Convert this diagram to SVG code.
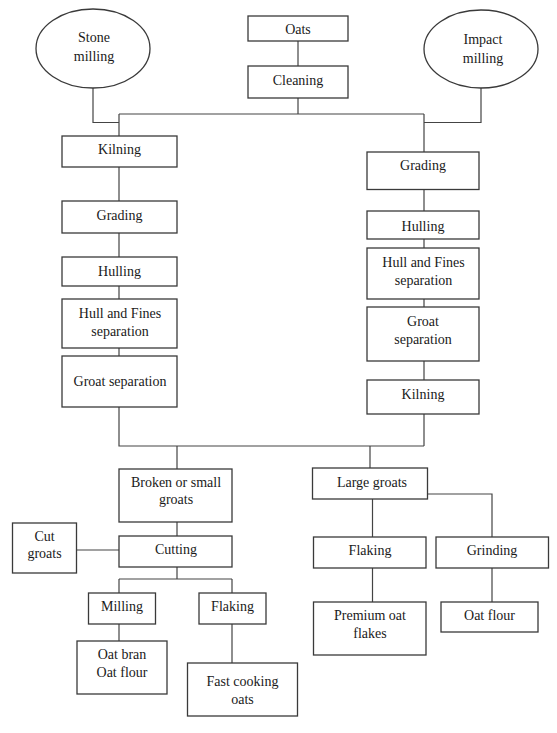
<svg xmlns="http://www.w3.org/2000/svg" width="557" height="733" viewBox="0 0 557 733">
<style>
.b{fill:#fff;stroke:#3a3a3a;stroke-width:1.3}
.c{fill:none;stroke:#444;stroke-width:1.2}
text{font-family:'Liberation Serif','Times New Roman','DejaVu Serif',serif;font-size:14px;fill:#1a1a1a;text-anchor:middle}
</style>
<rect width="557" height="733" fill="#fff"/>
<g id="connectors">
<path class="c" d="M298 41V66M298 98V114M119 114H424M93 88V122.5H119M481 88V122.5H424M119 114V136M424 114V152"/>
<path class="c" d="M119 167V201M119 233V257M119 286V299M119 348V356M119 407V446H424M424 189.5V211M424 239V248M424 299V307M424 361V380M424 414V446"/>
<path class="c" d="M177 446V469M370 446V468M177 522V536M77 550H119M177 567V579M119 579H232M119 579V593M232 579V593M119 624V641M232 624V663"/>
<path class="c" d="M372.5 499V537M428 494H492V537M372.5 568V602M492 568V602"/>
</g>
<g font-family="Liberation Serif, Times New Roman, serif">
<g id="stone"><ellipse cx="93" cy="48.5" rx="57" ry="39.5" class="b"/><text x="94" y="42">Stone</text><text x="94" y="61">milling</text></g>
<g id="impact"><ellipse cx="481" cy="49" rx="57" ry="39" class="b"/><text x="483" y="44">Impact</text><text x="483" y="63">milling</text></g>
<g id="oats"><rect x="248" y="16" width="100" height="25" class="b"/><text x="298" y="34">Oats</text></g>
<g id="cleaning"><rect x="248" y="66" width="100" height="32" class="b"/><text x="298" y="85">Cleaning</text></g>
<g id="kilning-l"><rect x="62" y="136" width="115" height="31" class="b"/><text x="119.5" y="154">Kilning</text></g>
<g id="grading-l"><rect x="62" y="201" width="115" height="32" class="b"/><text x="119.5" y="220">Grading</text></g>
<g id="hulling-l"><rect x="62" y="257" width="115" height="29" class="b"/><text x="119.5" y="275.5">Hulling</text></g>
<g id="hfs-l"><rect x="62" y="299" width="115" height="49" class="b"/><text x="120" y="317.5">Hull and Fines</text><text x="120" y="335.5">separation</text></g>
<g id="gs-l"><rect x="62" y="356" width="115" height="51" class="b"/><text x="120" y="385.5">Groat separation</text></g>
<g id="grading-r"><rect x="367" y="152" width="112" height="37.5" class="b"/><text x="423" y="170">Grading</text></g>
<g id="hulling-r"><rect x="367" y="211" width="112" height="28" class="b"/><text x="423" y="230.5">Hulling</text></g>
<g id="hfs-r"><rect x="367" y="248" width="112" height="51" class="b"/><text x="423.5" y="267">Hull and Fines</text><text x="423.5" y="285">separation</text></g>
<g id="gs-r"><rect x="367" y="307" width="112" height="54" class="b"/><text x="423" y="325.5">Groat</text><text x="423" y="343.5">separation</text></g>
<g id="kilning-r"><rect x="367" y="380" width="112" height="34" class="b"/><text x="423" y="398.5">Kilning</text></g>
<g id="broken"><rect x="119" y="469" width="113" height="53" class="b"/><text x="176" y="486.5">Broken or small</text><text x="176" y="504">groats</text></g>
<g id="cutgroats"><rect x="12.5" y="523" width="64" height="50" class="b"/><text x="44.5" y="540.5">Cut</text><text x="44.5" y="558">groats</text></g>
<g id="cutting"><rect x="119" y="536" width="113" height="31" class="b"/><text x="176" y="553.5">Cutting</text></g>
<g id="milling"><rect x="88.5" y="593" width="67" height="31" class="b"/><text x="122" y="611">Milling</text></g>
<g id="flaking-l"><rect x="199" y="593" width="67" height="31" class="b"/><text x="232.5" y="611">Flaking</text></g>
<g id="oatbran"><rect x="77" y="641" width="90" height="53" class="b"/><text x="122" y="658.5">Oat bran</text><text x="122" y="677">Oat flour</text></g>
<g id="fastcooking"><rect x="187.5" y="663" width="110" height="53" class="b"/><text x="242.5" y="686">Fast cooking</text><text x="242.5" y="704">oats</text></g>
<g id="large"><rect x="312.5" y="468" width="115" height="31" class="b"/><text x="372" y="487">Large groats</text></g>
<g id="flaking-r"><rect x="313.5" y="537" width="112.5" height="31" class="b"/><text x="370" y="554.5">Flaking</text></g>
<g id="grinding"><rect x="436" y="537" width="112.5" height="31" class="b"/><text x="492" y="554.5">Grinding</text></g>
<g id="premium"><rect x="313.5" y="602" width="112.5" height="53" class="b"/><text x="370" y="619.5">Premium oat</text><text x="370" y="638">flakes</text></g>
<g id="oatflour"><rect x="441" y="602" width="97" height="30" class="b"/><text x="489.5" y="619.5">Oat flour</text></g>
</g>
</svg>
